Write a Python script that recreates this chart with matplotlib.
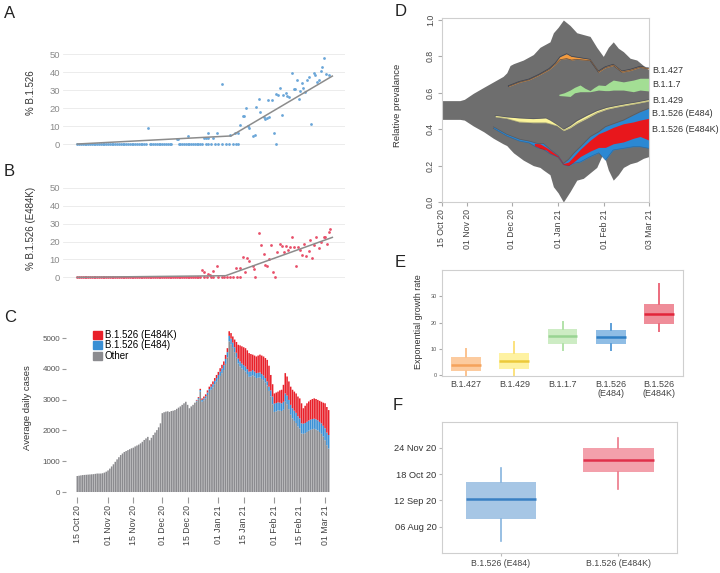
import numpy as np
import matplotlib
matplotlib.use("Agg")
import matplotlib.pyplot as plt
import matplotlib.dates as mdates
from matplotlib.patches import Patch

plt.rcParams['font.family'] = ['Liberation Sans', 'DejaVu Sans']

START = np.datetime64('2020-10-15')


def day(s):
    return int((np.datetime64(s) - START).astype(int))


# ---------------- data ----------------
# A: % B.1.526 per day (day 0 = 15 Oct 20)
a_zero_days = list(range(0, 39)) + list(range(40, 53)) + list(range(56, 70)) + \
    [71, 72, 74, 76, 78, 80, 82, 84, 86, 88, 89, 109.6]
a_days = [39, 55, 55.8, 61, 70, 71, 72, 72.5, 75, 77, 80, 84.5, 87, 89, 90, 91.5, 92, 93, 94.6, 95,
          97.4, 98, 99, 100.7, 101, 103, 104, 104.8, 105.7, 106, 107.5, 108.5, 110, 111, 112, 113, 114,
          115.5, 116, 117.3, 118.6, 119.6, 120.5, 121.4, 122.3, 123.2, 124.2, 125, 126, 127, 127.9,
          129.3, 130.6, 131.5, 132.5, 133.4, 134.7, 135.2, 136.5, 137.6, 139]
a_vals = [9.1, 2.6, 2.6, 4.6, 3.5, 3.5, 3.2, 5.9, 3.5, 6.0, 33.3, 5.0, 6.0, 6.3, 10.6, 15.8, 15.8, 19.9,
          10.0, 8.7, 4.5, 5.0, 20.4, 24.9, 18.0, 15.2, 13.8, 14.3, 24.5, 15.2, 24.5, 6.3, 27.9, 27.3,
          31.0, 16.2, 27.3, 28.3, 26.8, 26.4, 39.8, 30.5, 30.5, 35.7, 24.9, 29.7, 33.8, 31.0, 29.2,
          35.7, 37.2, 11.2, 39.4, 38.5, 34.8, 35.7, 40.7, 43.1, 47.8, 39.0, 38.5]
a_fit_days = [0, 85, 141]
a_fit_vals = [0, 4.5, 37.9]

# B: % B.1.526 (E484K)
b_zero_days = list(range(0, 69)) + [70, 71.6, 73.8, 75.3, 78, 80, 81.2, 82.7, 84.5, 86.3, 88.2, 90,
                                    98.3, 109.4]
b_days = [68.8, 70, 72.5, 73.5, 75, 77.5, 88, 89.7, 91.5, 92.8, 94, 95, 97.4, 97.8, 100.5, 101.5, 103,
          104, 104.8, 106, 107, 108, 110.3, 112, 113, 114.4, 115.5, 116.4, 117.7, 118.6, 120, 121, 122,
          123.2, 124.2, 125.5, 126.6, 127.9, 128.8, 129.7, 130.6, 132, 133.4, 134.7, 136.2, 137, 138,
          139, 139.9]
b_vals = [4.1, 3.2, 1.9, 1.5, 3.5, 6.3, 5.0, 5.0, 11.2, 3.2, 11.0, 9.3, 6.3, 4.5, 24.9, 18.0, 13.0, 6.9,
          6.3, 10.0, 18.0, 3.2, 14.3, 18.4, 17.5, 14.3, 17.5, 15.2, 16.7, 22.3, 16.7, 6.3, 17.0, 15.2,
          12.5, 18.6, 11.9, 14.9, 20.8, 11.0, 18.0, 22.3, 16.2, 19.9, 22.7, 22.3, 18.6, 25.5, 26.8]
b_fit_days = [0, 82, 141]
b_fit_vals = [0, 0.9, 22.3]

# C: average daily cases, 15 Oct 20 .. 03 Mar 21
cases_total = [
    520, 530, 540, 550, 555, 560, 565,
    570, 575, 580, 590, 600, 600, 600,
    610, 630, 660, 700, 760, 830, 900,
    980, 1060, 1130, 1200, 1250, 1300, 1330,
    1360, 1390, 1420, 1440, 1480, 1510, 1540,
    1580, 1630, 1690, 1740, 1790, 1680, 1760,
    1850, 1930, 2010, 2100, 2230, 2560, 2590,
    2610, 2620, 2600, 2630, 2640, 2660, 2700,
    2740, 2780, 2830, 2880, 2930, 2830, 2720,
    2780, 2830, 2900, 2990, 3080, 3350, 3040,
    3100, 3170, 3300, 3420, 3500, 3590, 3700,
    3800, 3900, 4020, 4130, 4240, 4450, 4670,
    5220, 5160, 5050, 4950, 4870, 4780, 4760,
    4730, 4700, 4670, 4600, 4510, 4480, 4460,
    4430, 4400, 4430, 4460, 4430, 4400, 4350,
    4290, 4100, 3800, 3500, 3200, 3230, 3260,
    3300, 3320, 3480, 3860, 3750, 3590, 3420,
    3320, 3260, 3200, 3100, 3040, 2880, 2720,
    2800, 2880, 2940, 2990, 3020, 3040, 3020,
    2990, 2960, 2930, 2900, 2880, 2760, 2660]
cases_e484k = [0] * 63 + [
    0, 0, 0, 20, 30, 40, 50,
    60, 60, 70, 80, 80, 90, 90,
    100, 100, 110, 120, 120, 130, 130,
    150, 180, 200, 250, 350, 450, 520,
    560, 580, 600, 610, 600, 560, 500,
    520, 540, 560, 580, 600, 620, 650,
    700, 680, 500, 400, 330, 340, 350,
    400, 440, 550, 660, 620, 600, 590,
    600, 620, 630, 640, 650, 650, 500,
    560, 600, 620, 640, 650, 660, 660,
    660, 680, 700, 750, 810, 830, 810]
cases_e484 = [0] * 63 + [
    0, 0, 0, 30, 40, 50, 60,
    60, 70, 80, 90, 100, 100, 110,
    120, 130, 140, 150, 160, 160, 170,
    180, 180, 170, 160, 160, 160, 160,
    160, 160, 160, 160, 170, 170, 170,
    160, 160, 160, 160, 160, 150, 140,
    130, 140, 200, 250, 270, 270, 260,
    260, 250, 260, 270, 280, 300, 320,
    330, 330, 330, 330, 330, 330, 330,
    330, 330, 330, 330, 330, 330, 330,
    330, 330, 340, 350, 390, 410, 440]
c_ticks = ['15 Oct 20', '01 Nov 20', '15 Nov 20', '01 Dec 20', '15 Dec 20', '01 Jan 21',
           '15 Jan 21', '01 Feb 21', '15 Feb 21', '01 Mar 21']
c_tick_dates = ['2020-10-15', '2020-11-01', '2020-11-15', '2020-12-01', '2020-12-15', '2021-01-01',
                '2021-01-15', '2021-02-01', '2021-02-15', '2021-03-01']

# D: relative prevalence (Muller-style bands)
env_days = [0, 12, 15, 21, 28, 34.5, 41, 43.5, 45.7, 48, 54.6, 61.3, 65.8, 68, 72.5, 74.8, 78, 81.5,
            86, 90.5, 94.9, 99.4, 103.9, 108.3, 111.7, 115, 118.4, 121.8, 126.3, 130.8, 135.2, 139]
env_upper = [0.557, 0.557, 0.564, 0.597, 0.63, 0.66, 0.69, 0.71, 0.75, 0.76, 0.78, 0.81, 0.85, 0.86,
             0.88, 0.93, 0.96, 1.0, 0.97, 0.93, 0.92, 0.91, 0.85, 0.80, 0.85, 0.88, 0.845, 0.826,
             0.79, 0.78, 0.75, 0.725]
env_lower = [0.454, 0.454, 0.45, 0.418, 0.386, 0.35, 0.32, 0.31, 0.29, 0.27, 0.23, 0.20, 0.19, 0.176,
             0.15, 0.084, 0.05, 0.0, 0.057, 0.12, 0.13, 0.16, 0.19, 0.27, 0.176, 0.12, 0.15, 0.19,
             0.21, 0.22, 0.24, 0.25]

b1427_days = [44.5, 51.7, 58.4, 65.1, 71.8, 76, 79.2, 83.7, 87, 90.4, 99.4, 105, 109.5, 115, 120.7,
              126.3, 133, 139]
b1427_lo = [0.634, 0.657, 0.671, 0.697, 0.727, 0.756, 0.782, 0.788, 0.780, 0.784, 0.777, 0.713,
            0.737, 0.750, 0.713, 0.722, 0.740, 0.731]
b1427_hi = [0.639, 0.662, 0.676, 0.702, 0.733, 0.764, 0.798, 0.815, 0.800, 0.796, 0.784, 0.720,
            0.743, 0.757, 0.720, 0.729, 0.746, 0.737]

b117_days = [78.5, 82, 86, 89, 92.7, 96, 99.4, 102, 105, 109.5, 112, 115, 121.8, 128.5, 133, 139]
b117_lo = [0.585, 0.583, 0.58, 0.60, 0.606, 0.606, 0.606, 0.610, 0.615, 0.612, 0.612, 0.615, 0.615,
           0.606, 0.615, 0.61]
b117_hi = [0.592, 0.600, 0.615, 0.630, 0.643, 0.625, 0.612, 0.628, 0.643, 0.640, 0.655, 0.67, 0.66,
           0.67, 0.68, 0.68]

b1429_days = [35.7, 43, 51.7, 61, 65.8, 69.6, 72.5, 77, 81.5, 86, 90.5, 97.2, 103.9, 110.6, 117.3,
              124, 130.8, 139]
b1429_lo = [0.468, 0.460, 0.440, 0.436, 0.436, 0.436, 0.430, 0.419, 0.392, 0.408, 0.432, 0.460,
            0.490, 0.510, 0.522, 0.532, 0.542, 0.555]
b1429_hi = [0.476, 0.468, 0.462, 0.458, 0.460, 0.462, 0.450, 0.427, 0.400, 0.420, 0.447, 0.476,
            0.502, 0.520, 0.531, 0.541, 0.550, 0.563]

e484_days = [34.5, 43.5, 52, 58.4, 64, 68, 72.5, 78, 81.5, 85, 88.4, 92.9, 99.6, 105.2, 109.7, 115,
             121.8, 128.5, 133, 139]
e484_lo = [0.405, 0.363, 0.335, 0.325, 0.298, 0.290, 0.265, 0.245, 0.205, 0.198, 0.213, 0.22, 0.25,
           0.27, 0.23, 0.286, 0.295, 0.304, 0.304, 0.295]
e484_hi = [0.413, 0.372, 0.345, 0.335, 0.322, 0.322, 0.290, 0.255, 0.212, 0.235, 0.268, 0.304, 0.36,
           0.386, 0.414, 0.43, 0.45, 0.478, 0.496, 0.515]

e484k_days = [62, 65.8, 70, 72.5, 78, 81.5, 85, 88.4, 92.9, 99.6, 105.2, 109.7, 115, 121.8, 128.5,
              133, 139]
e484k_lo = [0.31, 0.295, 0.285, 0.268, 0.247, 0.206, 0.20, 0.22, 0.25, 0.28, 0.30, 0.30, 0.32, 0.33,
            0.35, 0.36, 0.34]
e484k_hi = [0.322, 0.32, 0.30, 0.286, 0.253, 0.211, 0.22, 0.25, 0.29, 0.34, 0.375, 0.39, 0.41, 0.43,
            0.44, 0.45, 0.46]

d_labels = ['B.1.427', 'B.1.1.7', 'B.1.429', 'B.1.526 (E484)', 'B.1.526 (E484K)']
d_label_y = [0.72, 0.643, 0.555, 0.484, 0.40]
d_ticks = ['15 Oct 20', '01 Nov 20', '01 Dec 20', '01 Jan 21', '01 Feb 21', '03 Mar 21']
d_tick_dates = ['2020-10-15', '2020-11-01', '2020-12-01', '2021-01-01', '2021-02-01', '2021-03-03']

# E: exponential growth rate
growth_labels = ['B.1.427', 'B.1.429', 'B.1.1.7', 'B.1.526\n(E484)', 'B.1.526\n(E484K)']
growth_med = [4.0, 5.3, 14.8, 14.6, 23.4]
growth_q1 = [1.5, 2.2, 11.8, 11.8, 19.6]
growth_q3 = [7.0, 8.5, 17.7, 17.1, 27.2]
growth_lo = [0.0, 0.0, 9.5, 9.7, 16.7]
growth_hi = [10.1, 12.7, 20.3, 19.6, 34.8]

# F: date of emergence
origin_labels = ['B.1.526 (E484)', 'B.1.526 (E484K)']
origin_med = ['2020-09-14', '2020-11-07']
origin_q1 = ['2020-08-17', '2020-10-21']
origin_q3 = ['2020-10-07', '2020-11-24']
origin_lo = ['2020-07-17', '2020-09-28']
origin_hi = ['2020-10-27', '2020-12-08']
f_ticks = ['06 Aug 20', '12 Sep 20', '18 Oct 20', '24 Nov 20']
f_tick_dates = ['2020-08-06', '2020-09-12', '2020-10-18', '2020-11-24']

# ---------------- figure ----------------
W, H = 720, 573
fig = plt.figure(figsize=(7.2, 5.73), dpi=100)
TXT = '#333333'


def box(l, t, r, b):
    return fig.add_axes([l / W, 1 - b / H, (r - l) / W, (b - t) / H])


def panel_letter(x, y, s):
    fig.text(x / W, 1 - y / H, s, fontsize=12, color='#222222', ha='left', va='center')


def ylabel(x, y, s, size=7):
    fig.text(x / W, 1 - y / H, s, fontsize=size, color=TXT, rotation=90, ha='center', va='center')


def scatter_panel(ax, zero_days, days, vals, fit_d, fit_v, color):
    ax.set_xlim(-7.9, 148)
    ax.set_ylim(-3, 53)
    for sp in ax.spines.values():
        sp.set_visible(False)
    ax.set_yticks([0, 10, 20, 30, 40, 50])
    ax.yaxis.grid(True, color='#e9e9e9', lw=0.6)
    ax.set_axisbelow(True)
    ax.set_xticks([])
    ax.tick_params(axis='y', length=0, labelsize=6.8, labelcolor='#8a8a8a', pad=2)
    ax.scatter(zero_days, [0] * len(zero_days), s=4, color=color, lw=0, zorder=2)
    ax.scatter(days, vals, s=4, color=color, lw=0, zorder=2)
    ax.plot(fit_d, fit_v, color='#8c8c8c', lw=1.1, zorder=3)


axA = box(63, 49, 345, 149.4)
scatter_panel(axA, a_zero_days, a_days, a_vals, a_fit_days, a_fit_vals, '#6aa6d8')
panel_letter(4, 13, 'A')
ylabel(31, 93, '% B.1.526')

axB = box(63, 182.4, 345, 282.7)
scatter_panel(axB, b_zero_days, b_days, b_vals, b_fit_days, b_fit_vals, '#e8506a')
panel_letter(4, 172, 'B')
ylabel(31, 228, '% B.1.526 (E484K)')

# C
axC = box(66, 330, 335, 497)
days_c = np.arange(len(cases_total))
tot = np.array(cases_total)
e4 = np.array(cases_e484)
e4k = np.array(cases_e484k)
other = tot - e4 - e4k
bw = 0.85
axC.bar(days_c, other, width=bw, color='#8b8b8f', lw=0, snap=False)
axC.bar(days_c, e4, bottom=other, width=bw, color='#3a8fd4', lw=0, snap=False)
axC.bar(days_c, e4k, bottom=other + e4, width=bw, color='#e8202a', lw=0, snap=False)
axC.set_xlim(-6.25, 142.5)
axC.set_ylim(-162, 5260)
for sp in axC.spines.values():
    sp.set_visible(False)
axC.set_yticks([0, 1000, 2000, 3000, 4000, 5000])
axC.tick_params(axis='y', length=3, color='#9a9a9a', labelsize=5.8, labelcolor='#555555', pad=1)
axC.set_xticks([day(d) for d in c_tick_dates])
axC.set_xticklabels(c_ticks, rotation=90)
axC.tick_params(axis='x', length=4, color='#9a9a9a', labelsize=6.3, labelcolor='#444444', pad=2)
leg = axC.legend(handles=[Patch(color='#e8202a', label='B.1.526 (E484K)'),
                          Patch(color='#3a8fd4', label='B.1.526 (E484)'),
                          Patch(color='#8b8b8f', label='Other')],
                 loc='upper left', bbox_to_anchor=(0.1, 1.0), frameon=False, fontsize=7,
                 handlelength=0.9, handleheight=0.9, handletextpad=0.3, labelspacing=0.05,
                 borderaxespad=0, borderpad=0)
panel_letter(4, 318, 'C')
ylabel(28, 408, 'Average daily cases', 6.8)

# D
axD = box(442, 18, 649, 202)
axD.set_xlim(0, 139)
axD.set_ylim(0, 1.011)
axD.fill_between(env_days, env_lower, env_upper, color='#6e6e6e', lw=0)
# (days, lo, hi, fill colour, edge alpha)
bands = [(b1427_days, b1427_lo, b1427_hi, '#f39a3d', 0.75),
         (b117_days, b117_lo, b117_hi, '#a3de94', 0.0),
         (b1429_days, b1429_lo, b1429_hi, '#fbf49a', 0.35),
         (e484_days, e484_lo, e484_hi, '#2b88d3', 0.35),
         (e484k_days, e484k_lo, e484k_hi, '#e8171c', 0.0)]
for dd, lo, hi, col, ea in bands:
    axD.fill_between(dd, lo, hi, color=col, lw=0)
    if ea > 0:
        axD.plot(dd, lo, color='#2c3345', lw=0.5, alpha=ea)
        axD.plot(dd, hi, color='#2c3345', lw=0.5, alpha=ea)
for sp in axD.spines.values():
    sp.set_color('#cfcfcf')
    sp.set_linewidth(0.8)
axD.set_yticks([0, 0.2, 0.4, 0.6, 0.8, 1.0])
axD.set_yticklabels(['0.0', '0.2', '0.4', '0.6', '0.8', '1.0'], rotation=90, va='center')
axD.set_xticks([day(d) for d in d_tick_dates])
axD.set_xticklabels(d_ticks, rotation=90)
axD.tick_params(length=3, color='#aaaaaa', labelsize=6.3, labelcolor='#444444', pad=2)
for lab, yv in zip(d_labels, d_label_y):
    axD.text(141, yv, lab, fontsize=6.5, color=TXT, ha='left', va='center', clip_on=False)
panel_letter(395, 12, 'D')
ylabel(398, 105, 'Relative prevalance', 6.8)

# E
axE = box(442, 270, 683, 376)
e_face = ['#fccb9f', '#fef2a2', '#cdecc4', '#8fbde5', '#ef8d99']
e_med = ['#f5a35c', '#ecc93a', '#98d492', '#2f7fc4', '#e2243a']
e_whisk = ['#fbc28e', '#fbe27e', '#b2e2a9', '#5d9fd8', '#ec6b7d']
for i in range(len(growth_labels)):
    st = [dict(med=growth_med[i], q1=growth_q1[i], q3=growth_q3[i], whislo=growth_lo[i],
               whishi=growth_hi[i], fliers=[])]
    axE.bxp(st, positions=[i + 1], widths=0.62, patch_artist=True, showcaps=False,
            boxprops=dict(facecolor=e_face[i], edgecolor=e_face[i], lw=0),
            medianprops=dict(color=e_med[i], lw=1.8),
            whiskerprops=dict(color=e_whisk[i], lw=1.4))
axE.set_xlim(0.5, 5.5)
axE.set_ylim(-0.3, 40)
axE.set_xticks(range(1, len(growth_labels) + 1))
axE.set_xticklabels(growth_labels, fontsize=6.5, color='#444444', linespacing=1.0)
axE.tick_params(axis='x', length=0, pad=3)
axE.set_yticks([0, 10, 20, 30])
axE.tick_params(axis='y', length=2, color='#aaaaaa', labelsize=4, labelcolor='#555555', pad=1.5)
for sp in axE.spines.values():
    sp.set_color('#cfcfcf')
    sp.set_linewidth(0.8)
panel_letter(395, 262, 'E')
ylabel(418, 322, 'Exponential growth rate', 6.5)

# F
axF = box(442, 422, 677, 553)
to_num = lambda arr: list(mdates.date2num(np.array(arr, dtype='datetime64[D]')))
f_face = ['#a6c6e5', '#f3a0ab']
f_med = ['#3a80c3', '#e0304a']
f_whisk = ['#86b4de', '#ec7889']
o_med, o_q1, o_q3 = to_num(origin_med), to_num(origin_q1), to_num(origin_q3)
o_lo, o_hi = to_num(origin_lo), to_num(origin_hi)
for i in range(len(origin_labels)):
    st = [dict(med=o_med[i], q1=o_q1[i], q3=o_q3[i], whislo=o_lo[i], whishi=o_hi[i], fliers=[])]
    axF.bxp(st, positions=[i + 1], widths=0.6, patch_artist=True, showcaps=False,
            boxprops=dict(facecolor=f_face[i], edgecolor=f_face[i], lw=0),
            medianprops=dict(color=f_med[i], lw=1.8),
            whiskerprops=dict(color=f_whisk[i], lw=1.2))
axF.set_xlim(0.5, 2.5)
axF.set_ylim(mdates.date2num(np.datetime64('2020-06-30')), mdates.date2num(np.datetime64('2020-12-30')))
axF.set_xticks([1, 2])
axF.set_xticklabels(origin_labels, fontsize=6.3, color='#444444')
axF.set_yticks(to_num(f_tick_dates))
axF.set_yticklabels(f_ticks, fontsize=6.7, color='#333333')
axF.tick_params(length=2, color='#bbbbbb', pad=2)
for sp in axF.spines.values():
    sp.set_color('#cfcfcf')
    sp.set_linewidth(0.8)
panel_letter(393, 406, 'F')

fig.savefig('out.png', dpi=100)
